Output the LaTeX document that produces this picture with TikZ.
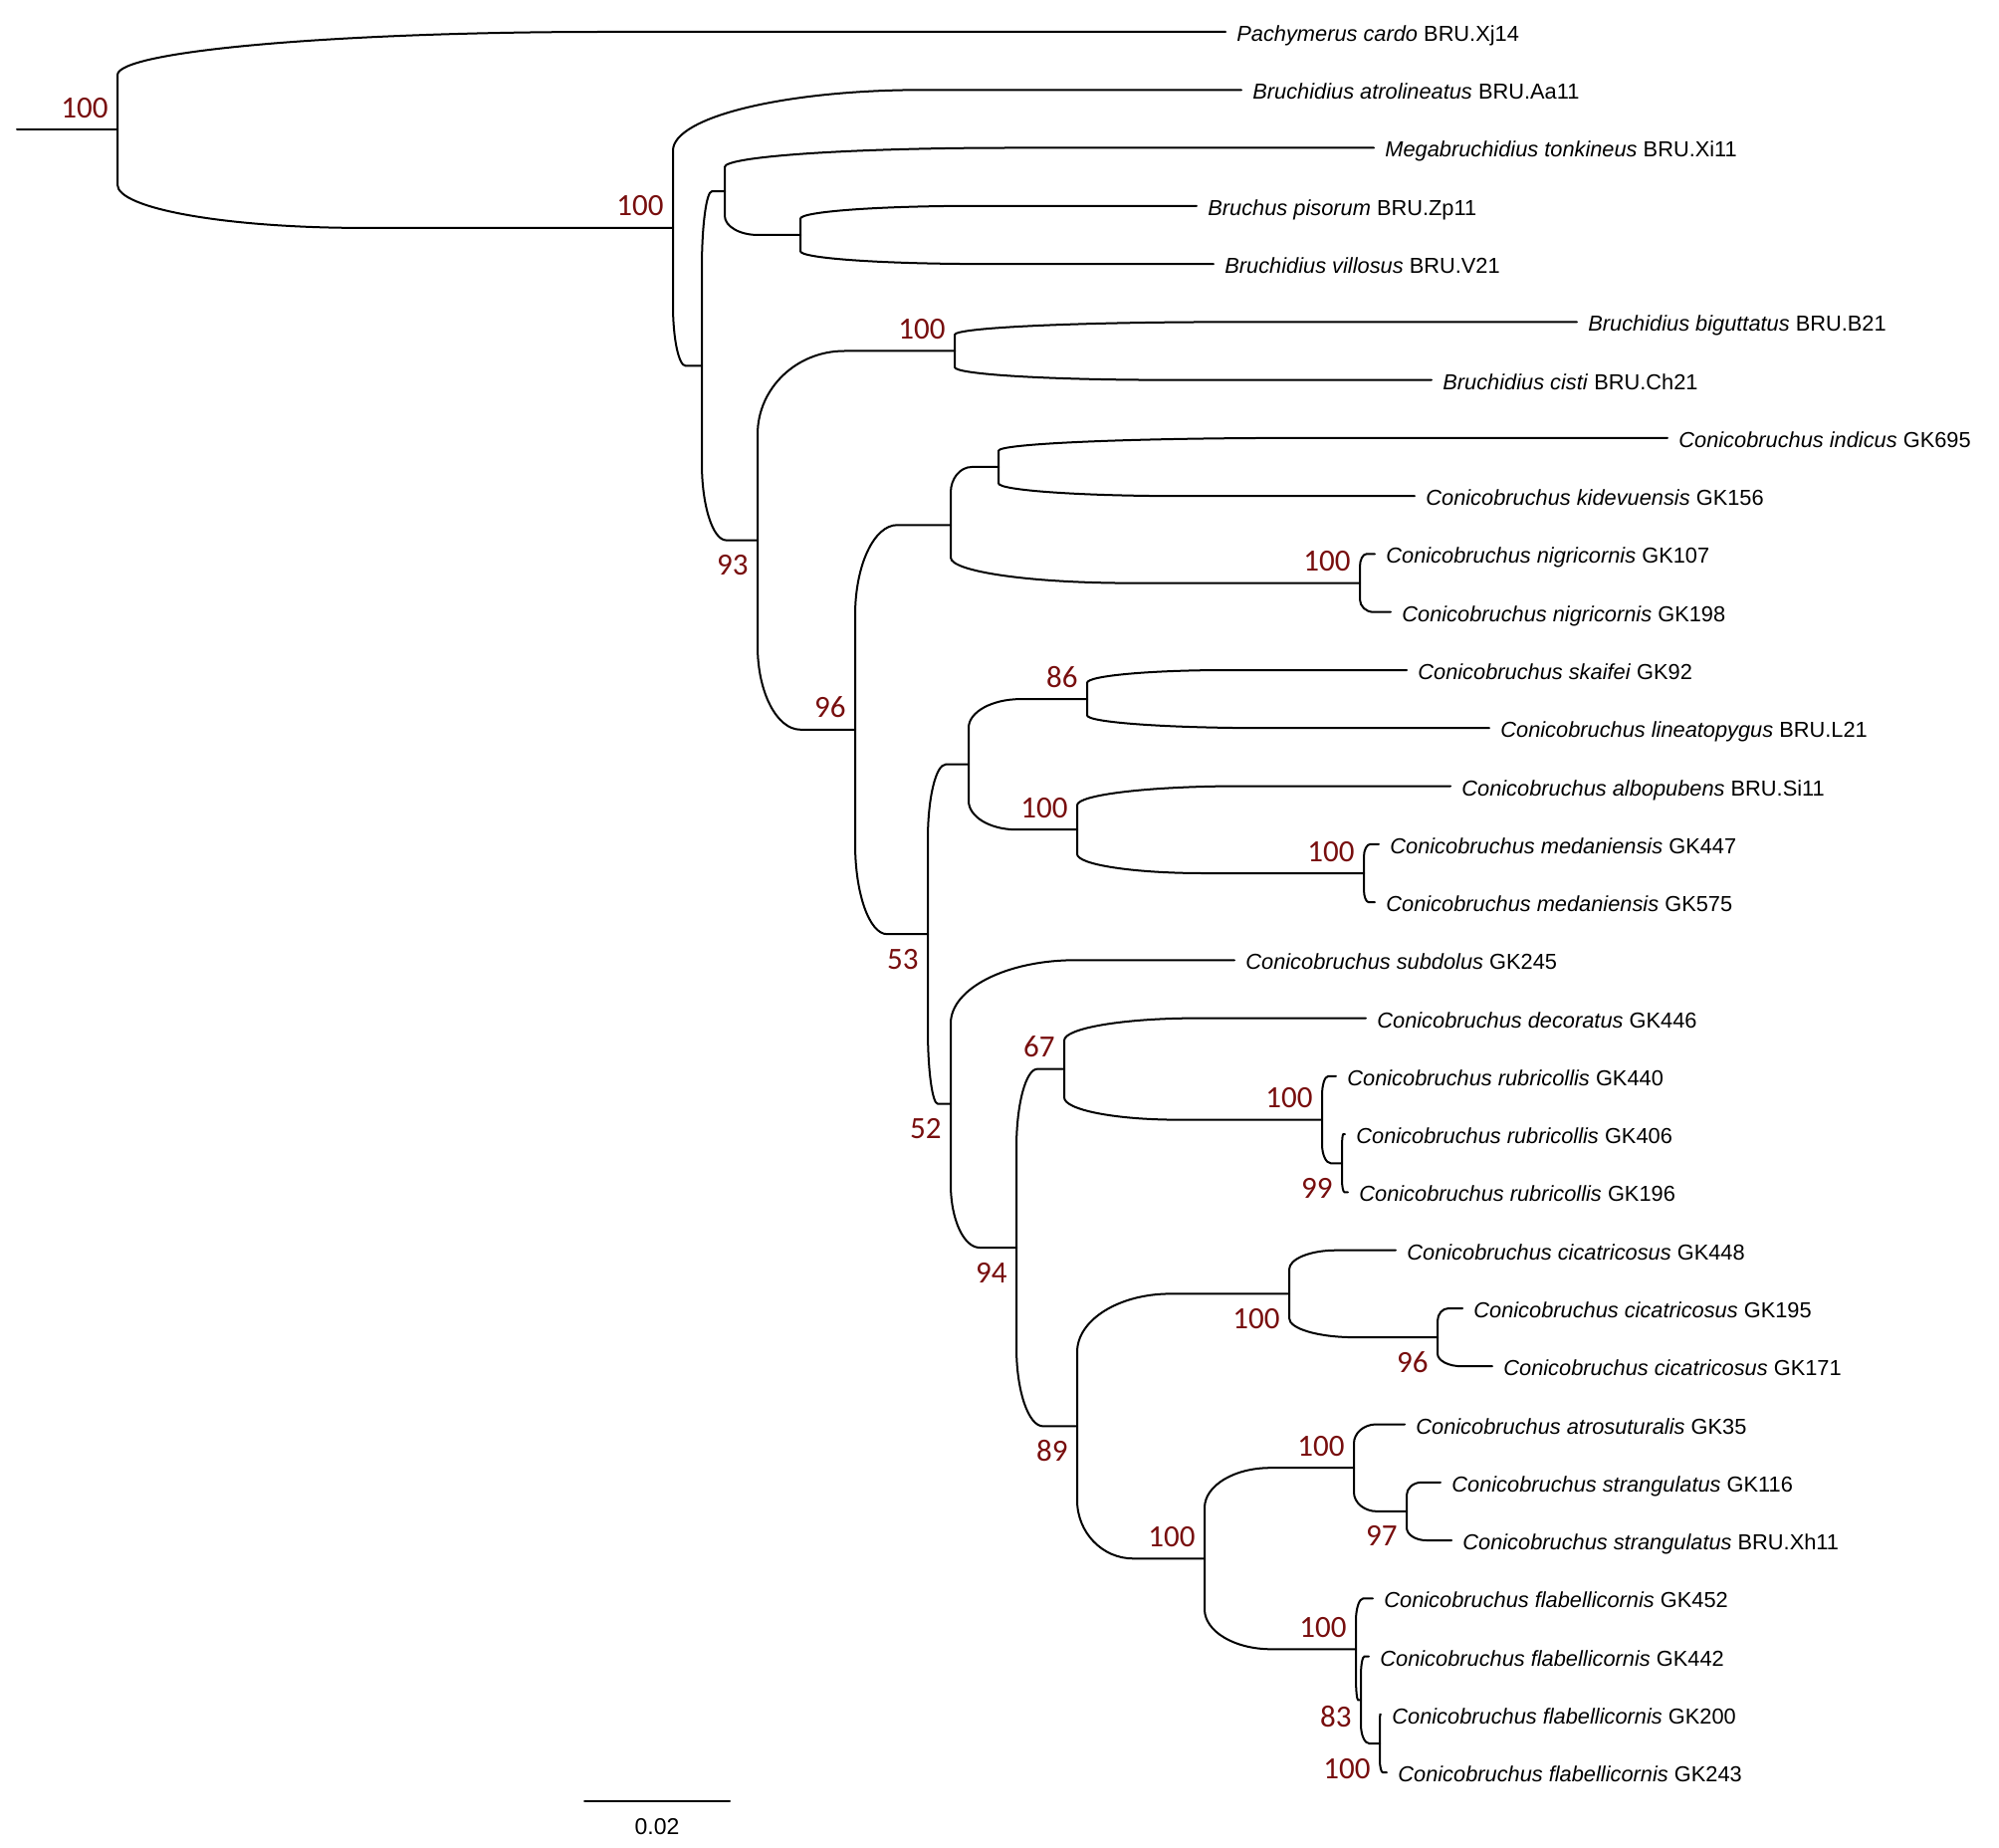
\documentclass[tikz,border=0pt]{standalone}
\usepackage{fontspec}
\setmainfont{Liberation Sans}
\newfontfamily\bsfont{Carlito}
\usetikzlibrary{calc}
\definecolor{boot}{RGB}{120,14,14}

\tikzset{
  branch/.style={line width=1pt, line cap=round},
  taxon/.style={anchor=base west, inner sep=0pt, xshift=5.5pt, yshift=-4.75pt,
    font=\fontsize{10.9}{13}\selectfont},
  bs/.style={anchor=base east, inner sep=0pt, xshift=-4.5pt, text=boot,
    font=\bsfont\fontsize{15.5}{18}\selectfont},
  bsup/.style={bs, yshift=6pt},
  bsdown/.style={bs, yshift=-17.5pt},
}
% curved branch from parent to child (quarter ellipse into the corner)
\newcommand\br[2]{\draw[branch] let \p1=(#1), \p2=(#2) in
  (\p1) -- (\x1,{\y1+0.56*(\y2-\y1)})
  .. controls (\x1,{\y1+0.803*(\y2-\y1)}) and ({\x1+0.197*(\x2-\x1)},\y2) ..
  ({\x1+0.44*(\x2-\x1)},\y2) -- (\p2);}

\begin{document}
\begin{tikzpicture}[x=0.5pt, y=-0.5pt]
\useasboundingbox (0,0) rectangle (2008,1856);

% tips
\coordinate (t0) at (1231,32);     \node[taxon] (l0) at (t0) {\textit{Pachymerus cardo} BRU.Xj14};
\coordinate (t1) at (1247,90.3);   \node[taxon] (l1) at (t1) {\textit{Bruchidius atrolineatus} BRU.Aa11};
\coordinate (t2) at (1380,148.5);  \node[taxon] (l2) at (t2) {\textit{Megabruchidius tonkineus} BRU.Xi11};
\coordinate (t3) at (1202,206.8);  \node[taxon] (l3) at (t3) {\textit{Bruchus pisorum} BRU.Zp11};
\coordinate (t4) at (1219,265.1);  \node[taxon] (l4) at (t4) {\textit{Bruchidius villosus} BRU.V21};
\coordinate (t5) at (1584,323.4);  \node[taxon] (l5) at (t5) {\textit{Bruchidius biguttatus} BRU.B21};
\coordinate (t6) at (1438,381.6);  \node[taxon] (l6) at (t6) {\textit{Bruchidius cisti} BRU.Ch21};
\coordinate (t7) at (1675,439.9);  \node[taxon] (l7) at (t7) {\textit{Conicobruchus indicus} GK695};
\coordinate (t8) at (1421,498.2);  \node[taxon] (l8) at (t8) {\textit{Conicobruchus kidevuensis} GK156};
\coordinate (t9) at (1381,556.4);  \node[taxon] (l9) at (t9) {\textit{Conicobruchus nigricornis} GK107};
\coordinate (t10) at (1397,614.7); \node[taxon] (l10) at (t10) {\textit{Conicobruchus nigricornis} GK198};
\coordinate (t11) at (1413,673.0); \node[taxon] (l11) at (t11) {\textit{Conicobruchus skaifei} GK92};
\coordinate (t12) at (1496,731.2); \node[taxon] (l12) at (t12) {\textit{Conicobruchus lineatopygus} BRU.L21};
\coordinate (t13) at (1457,789.5); \node[taxon] (l13) at (t13) {\textit{Conicobruchus albopubens} BRU.Si11};
\coordinate (t14) at (1385,847.8); \node[taxon] (l14) at (t14) {\textit{Conicobruchus medaniensis} GK447};
\coordinate (t15) at (1381,906.1); \node[taxon] (l15) at (t15) {\textit{Conicobruchus medaniensis} GK575};
\coordinate (t16) at (1240,964.3); \node[taxon] (l16) at (t16) {\textit{Conicobruchus subdolus} GK245};
\coordinate (t17) at (1372,1022.6); \node[taxon] (l17) at (t17) {\textit{Conicobruchus decoratus} GK446};
\coordinate (t18) at (1342,1080.9); \node[taxon] (l18) at (t18) {\textit{Conicobruchus rubricollis} GK440};
\coordinate (t19) at (1351,1139.1); \node[taxon] (l19) at (t19) {\textit{Conicobruchus rubricollis} GK406};
\coordinate (t20) at (1354,1197.4); \node[taxon] (l20) at (t20) {\textit{Conicobruchus rubricollis} GK196};
\coordinate (t21) at (1402,1255.7); \node[taxon] (l21) at (t21) {\textit{Conicobruchus cicatricosus} GK448};
\coordinate (t22) at (1469,1314.0); \node[taxon] (l22) at (t22) {\textit{Conicobruchus cicatricosus} GK195};
\coordinate (t23) at (1499,1372.2); \node[taxon] (l23) at (t23) {\textit{Conicobruchus cicatricosus} GK171};
\coordinate (t24) at (1411,1430.5); \node[taxon] (l24) at (t24) {\textit{Conicobruchus atrosuturalis} GK35};
\coordinate (t25) at (1447,1488.8); \node[taxon] (l25) at (t25) {\textit{Conicobruchus strangulatus} GK116};
\coordinate (t26) at (1458,1547.0); \node[taxon] (l26) at (t26) {\textit{Conicobruchus strangulatus} BRU.Xh11};
\coordinate (t27) at (1379,1605.3); \node[taxon] (l27) at (t27) {\textit{Conicobruchus flabellicornis} GK452};
\coordinate (t28) at (1375,1663.6); \node[taxon] (l28) at (t28) {\textit{Conicobruchus flabellicornis} GK442};
\coordinate (t29) at (1387,1721.8); \node[taxon] (l29) at (t29) {\textit{Conicobruchus flabellicornis} GK200};
\coordinate (t30) at (1393,1780.1); \node[taxon] (l30) at (t30) {\textit{Conicobruchus flabellicornis} GK243};

% internal nodes
\coordinate (stub) at (17,130.4);
\coordinate (root) at (118,130.4);
\coordinate (a) at (676,228.9);
\coordinate (b) at (705,367.4);
\coordinate (d) at (728,192.2);
\coordinate (e) at (804,236.0);
\coordinate (c) at (761,542.6);
\coordinate (f) at (959,352.5);
\coordinate (g) at (859,732.8);
\coordinate (h) at (955,527.3);
\coordinate (i) at (1003,469.0);
\coordinate (k) at (1366,585.6);
\coordinate (j) at (932,938.2);
\coordinate (l) at (973,767.7);
\coordinate (n) at (1092,702.1);
\coordinate (o) at (1082,833.2);
\coordinate (p) at (1370,877.0);
\coordinate (m) at (955,1108.7);
\coordinate (q) at (1021,1253.0);
\coordinate (r) at (1069,1073.6);
\coordinate (t) at (1328,1124.6);
\coordinate (u) at (1348,1168.3);
\coordinate (s) at (1082,1432.4);
\coordinate (v) at (1295,1299.4);
\coordinate (x) at (1444,1343.1);
\coordinate (w) at (1210,1565.3);
\coordinate (y) at (1360,1474.2);
\coordinate (aa) at (1413,1517.9);
\coordinate (z) at (1362,1656.3);
\coordinate (bb) at (1367,1707.3);
\coordinate (cc) at (1386,1751.0);

% branches
\draw[branch] (stub) -- (root);
\br{root}{t0} \br{root}{a}
\br{a}{t1} \br{a}{b}
\br{b}{d} \br{b}{c}
\br{d}{t2} \br{d}{e}
\br{e}{t3} \br{e}{t4}
\br{c}{f} \br{c}{g}
\br{f}{t5} \br{f}{t6}
\br{g}{h} \br{g}{j}
\br{h}{i} \br{h}{k}
\br{i}{t7} \br{i}{t8}
\br{k}{t9} \br{k}{t10}
\br{j}{l} \br{j}{m}
\br{l}{n} \br{l}{o}
\br{n}{t11} \br{n}{t12}
\br{o}{t13} \br{o}{p}
\br{p}{t14} \br{p}{t15}
\br{m}{t16} \br{m}{q}
\br{q}{r} \br{q}{s}
\br{r}{t17} \br{r}{t}
\br{t}{t18} \br{t}{u}
\br{u}{t19} \br{u}{t20}
\br{s}{v} \br{s}{w}
\br{v}{t21} \br{v}{x}
\br{x}{t22} \br{x}{t23}
\br{w}{y} \br{w}{z}
\br{y}{t24} \br{y}{aa}
\br{aa}{t25} \br{aa}{t26}
\br{z}{t27} \br{z}{bb}
\br{bb}{t28} \br{bb}{cc}
\br{cc}{t29} \br{cc}{t30}

% bootstrap support
\node[bsup] (bs-root) at (root) {100};
\node[bsup] (bs-a) at (a) {100};
\node[bsdown] (bs-c) at (c) {93};
\node[bsup] (bs-f) at (f) {100};
\node[bsup] (bs-g) at (g) {96};
\node[bsup] (bs-k) at (k) {100};
\node[bsdown] (bs-j) at (j) {53};
\node[bsup] (bs-n) at (n) {86};
\node[bsup] (bs-o) at (o) {100};
\node[bsup] (bs-p) at (p) {100};
\node[bsdown] (bs-m) at (m) {52};
\node[bsdown] (bs-q) at (q) {94};
\node[bsup] (bs-r) at (r) {67};
\node[bsup] (bs-t) at (t) {100};
\node[bsdown] (bs-u) at (u) {99};
\node[bsdown] (bs-s) at (s) {89};
\node[bsdown] (bs-v) at (v) {100};
\node[bsdown] (bs-x) at (x) {96};
\node[bsup] (bs-w) at (w) {100};
\node[bsup] (bs-y) at (y) {100};
\node[bsdown] (bs-aa) at (aa) {97};
\node[bsup] (bs-z) at (z) {100};
\node[bsdown, yshift=4pt] (bs-bb) at (bb) {83};
\node[bsdown] (bs-cc) at (cc) {100};

% scale bar
\coordinate (sb1) at (587,1809);
\coordinate (sb2) at (733,1809);
\draw[branch] (sb1) -- node[anchor=base, yshift=-16.5pt, inner sep=0pt, font=\fontsize{11.5}{13}\selectfont] (sblab) {0.02} (sb2);
\end{tikzpicture}
\end{document}
